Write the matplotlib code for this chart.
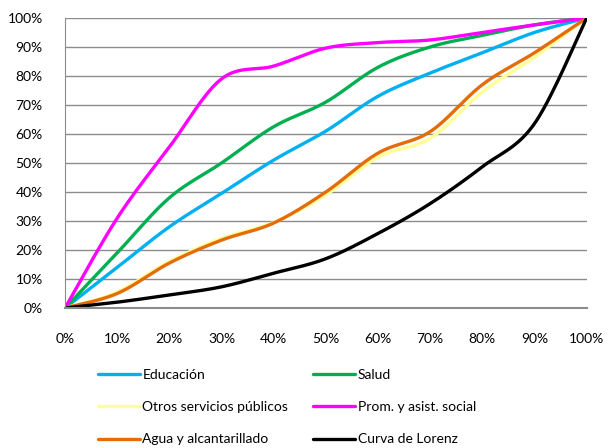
import numpy as np
import matplotlib
matplotlib.use("Agg")
import matplotlib.pyplot as plt
from matplotlib.ticker import PercentFormatter

# Cumulative share of population (x) and of spending (y), in percent
poblacion = [0, 10, 20, 30, 40, 50, 60, 70, 80, 90, 100]

educacion = [0, 14, 28, 39.5, 51, 61, 73, 81, 88, 95, 100]
salud = [0, 19, 38, 50, 62.5, 71, 83, 90, 94, 97.6, 100]
otros = [0, 5.5, 16, 24, 29.5, 39, 52, 58.5, 74.5, 86.5, 100]
prom_social = [0, 31, 55.5, 79, 83.4, 89.6, 91.5, 92.4, 95, 97.6, 100]
agua = [0, 5, 15.5, 23.4, 29.3, 40, 53.4, 60.8, 77, 88, 100]
lorenz = [0, 2, 4.5, 7.3, 12, 17, 25.7, 36, 48.7, 63.6, 100]

series = [
    ("Educación", educacion, "#00B0F0"),
    ("Salud", salud, "#00B050"),
    ("Otros servicios públicos", otros, "#FFFF99"),
    ("Prom. y asist. social", prom_social, "#FF00FF"),
    ("Agua y alcantarillado", agua, "#E46C0A"),
    ("Curva de Lorenz", lorenz, "#000000"),
]


def smooth(x, y, n=30):
    """Catmull-Rom style smoothing through every data point."""
    x = np.asarray(x, float)
    y = np.asarray(y, float)
    px = np.concatenate([[x[0]], x, [x[-1]]])
    py = np.concatenate([[y[0]], y, [y[-1]]])
    xs, ys = [], []
    t = np.linspace(0, 1, n, endpoint=False)
    for i in range(1, len(px) - 2):
        p0, p1, p2, p3 = (np.array([px[j], py[j]]) for j in range(i - 1, i + 3))
        c1 = p1 + (p2 - p0) / 6
        c2 = p2 - (p3 - p1) / 6
        b = ((1 - t) ** 3)[:, None] * p1 + (3 * (1 - t) ** 2 * t)[:, None] * c1 \
            + (3 * (1 - t) * t ** 2)[:, None] * c2 + (t ** 3)[:, None] * p2
        xs.append(b[:, 0])
        ys.append(b[:, 1])
    xs.append([x[-1]])
    ys.append([y[-1]])
    return np.concatenate(xs), np.concatenate(ys)


plt.rcParams["font.family"] = ["Lato", "DejaVu Sans"]
fig = plt.figure(figsize=(6.08, 4.48), dpi=100)
ax = fig.add_axes([0.107, 0.3125, 0.858, 0.6475])

handles = {}
for name, vals, color in series:
    sx, sy = smooth(poblacion, vals)
    (ln,) = ax.plot(sx, sy, color=color, lw=2.4, solid_capstyle="round", label=name)
    handles[name] = ln

ax.set_xlim(0, 100)
ax.set_ylim(0, 100)
ax.set_xticks(np.arange(0, 101, 10))
ax.set_yticks(np.arange(0, 101, 10))
ax.xaxis.set_major_formatter(PercentFormatter(decimals=0))
ax.yaxis.set_major_formatter(PercentFormatter(decimals=0))
ax.tick_params(length=0, labelsize=10, colors="#000000")
ax.tick_params(axis="y", pad=16)
ax.tick_params(axis="x", pad=18)
ax.grid(axis="y", color="#8C8C8C", lw=1.0)
ax.set_axisbelow(True)
for s in ("top", "right"):
    ax.spines[s].set_visible(False)
ax.spines["left"].set_color("#8C8C8C")
ax.spines["bottom"].set_color("#8C8C8C")
ax.spines["bottom"].set_linewidth(1.5)

order = ["Educación", "Otros servicios públicos", "Agua y alcantarillado",
         "Salud", "Prom. y asist. social", "Curva de Lorenz"]
fig.legend([handles[n] for n in order], order, ncol=2, frameon=False,
           loc="upper left", bbox_to_anchor=(0.161, 0.176), fontsize=10,
           handlelength=3.0, handletextpad=0.2, labelspacing=1.45,
           columnspacing=1.8, borderaxespad=0, borderpad=0)

fig.savefig("out.png", dpi=100)
